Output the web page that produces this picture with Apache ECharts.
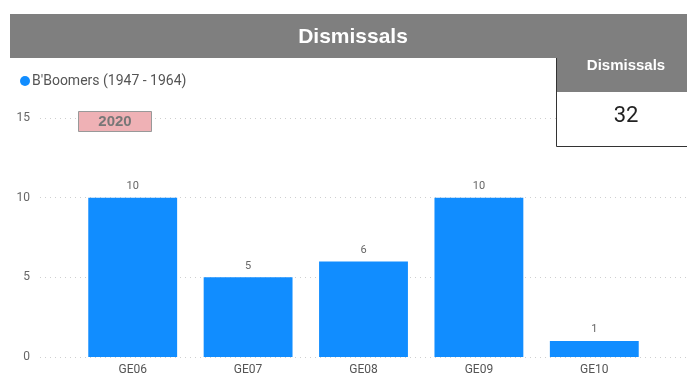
<!DOCTYPE html>
<html>
<head>
<meta charset="utf-8">
<script src="https://cdn.jsdelivr.net/npm/echarts@6/dist/echarts.min.js"></script>
<style>
  html, body { margin: 0; padding: 0; background: #fff; }
  #chart { width: 687px; height: 376px; }
</style>
</head>
<body>
<div id="chart"></div>
<script>
// data
const categories = ['GE06', 'GE07', 'GE08', 'GE09', 'GE10'];
const boomers = [10, 5, 6, 10, 1];
const seriesName = "B'Boomers (1947 - 1964)";
const yearLabel = '2020';
const totalDismissals = 32;

const font = "'Segoe UI', Roboto, 'Noto Sans', sans-serif";
const headFont = "'Liberation Sans', Arial, sans-serif";

const chart = echarts.init(document.getElementById('chart'));

const option = {
  backgroundColor: '#fff',
  animation: false,
  textStyle: { fontFamily: font },
  legend: {
    left: 15,
    top: 69,
    itemWidth: 10,
    itemHeight: 10,
    itemGap: 4,
    icon: 'circle',
    textStyle: { color: '#555', fontSize: 14, fontFamily: font, padding: [0, 0, 0, -3] },
    data: [seriesName]
  },
  grid: [
    // background grid: y labels + dotted gridlines spanning the visual
    { left: 40, right: 0, top: 118, bottom: 19 },
    // plot grid for the bars
    { left: 75, right: 35, top: 118, bottom: 19 }
  ],
  xAxis: [
    { gridIndex: 0, type: 'value', min: 0, max: 1, show: false },
    {
      gridIndex: 1,
      type: 'category',
      data: categories,
      axisLine: { show: false },
      axisTick: { show: false },
      axisLabel: { color: '#555', fontSize: 12, margin: 7, fontFamily: font }
    }
  ],
  yAxis: [
    {
      gridIndex: 0,
      type: 'value',
      min: 0,
      max: 15,
      interval: 5,
      axisLine: { show: false },
      axisTick: { show: false },
      axisLabel: { color: '#666', fontSize: 12, margin: 10, fontFamily: font },
      splitLine: { lineStyle: { color: '#cfcfcf', type: [1, 4], width: 1 } }
    },
    {
      gridIndex: 1,
      type: 'value',
      min: 0,
      max: 15,
      interval: 5,
      show: false,
      splitLine: { show: false }
    }
  ],
  series: [
    {
      name: seriesName,
      type: 'bar',
      xAxisIndex: 1,
      yAxisIndex: 1,
      data: boomers,
      barWidth: '77%',
      itemStyle: { color: '#118DFF' },
      label: {
        show: true,
        position: 'top',
        distance: 6,
        color: '#666',
        fontSize: 11,
        fontFamily: font
      }
    }
  ],
  graphic: [
    // title bar
    {
      type: 'rect',
      shape: { x: 10, y: 14, width: 677, height: 44 },
      style: { fill: '#7f7f7f' },
      z: 10
    },
    {
      type: 'text',
      x: 353,
      y: 37,
      style: {
        text: 'Dismissals',
        fill: '#fff',
        font: 'bold 21px ' + headFont,
        textAlign: 'center',
        textVerticalAlign: 'middle'
      },
      z: 11
    },
    // year box
    {
      type: 'rect',
      shape: { x: 78.5, y: 111.5, width: 73, height: 20 },
      style: { fill: '#EFB1B5', stroke: '#999', lineWidth: 1 },
      z: 10
    },
    {
      type: 'text',
      x: 115,
      y: 122,
      style: {
        text: yearLabel,
        fill: '#777',
        font: 'bold 15px ' + headFont,
        textAlign: 'center',
        textVerticalAlign: 'middle'
      },
      z: 11
    },
    // card
    {
      type: 'rect',
      shape: { x: 556, y: 58, width: 131, height: 89 },
      style: { fill: '#fff' },
      z: 10
    },
    {
      type: 'rect',
      shape: { x: 556, y: 58, width: 131, height: 34 },
      style: { fill: '#7f7f7f' },
      z: 11
    },
    {
      type: 'polyline',
      shape: { points: [[556.5, 58], [556.5, 146.5], [687, 146.5]] },
      style: { stroke: '#333', lineWidth: 1, fill: null },
      z: 12
    },
    {
      type: 'text',
      x: 626,
      y: 66,
      style: {
        text: 'Dismissals',
        fill: '#fff',
        font: 'bold 15px ' + headFont,
        textAlign: 'center',
        textVerticalAlign: 'middle'
      },
      z: 12
    },
    {
      type: 'text',
      x: 626,
      y: 116,
      style: {
        text: String(totalDismissals),
        fill: '#222',
        font: '22px ' + font,
        textAlign: 'center',
        textVerticalAlign: 'middle'
      },
      z: 12
    }
  ]
};

chart.setOption(option);
</script>
</body>
</html>
